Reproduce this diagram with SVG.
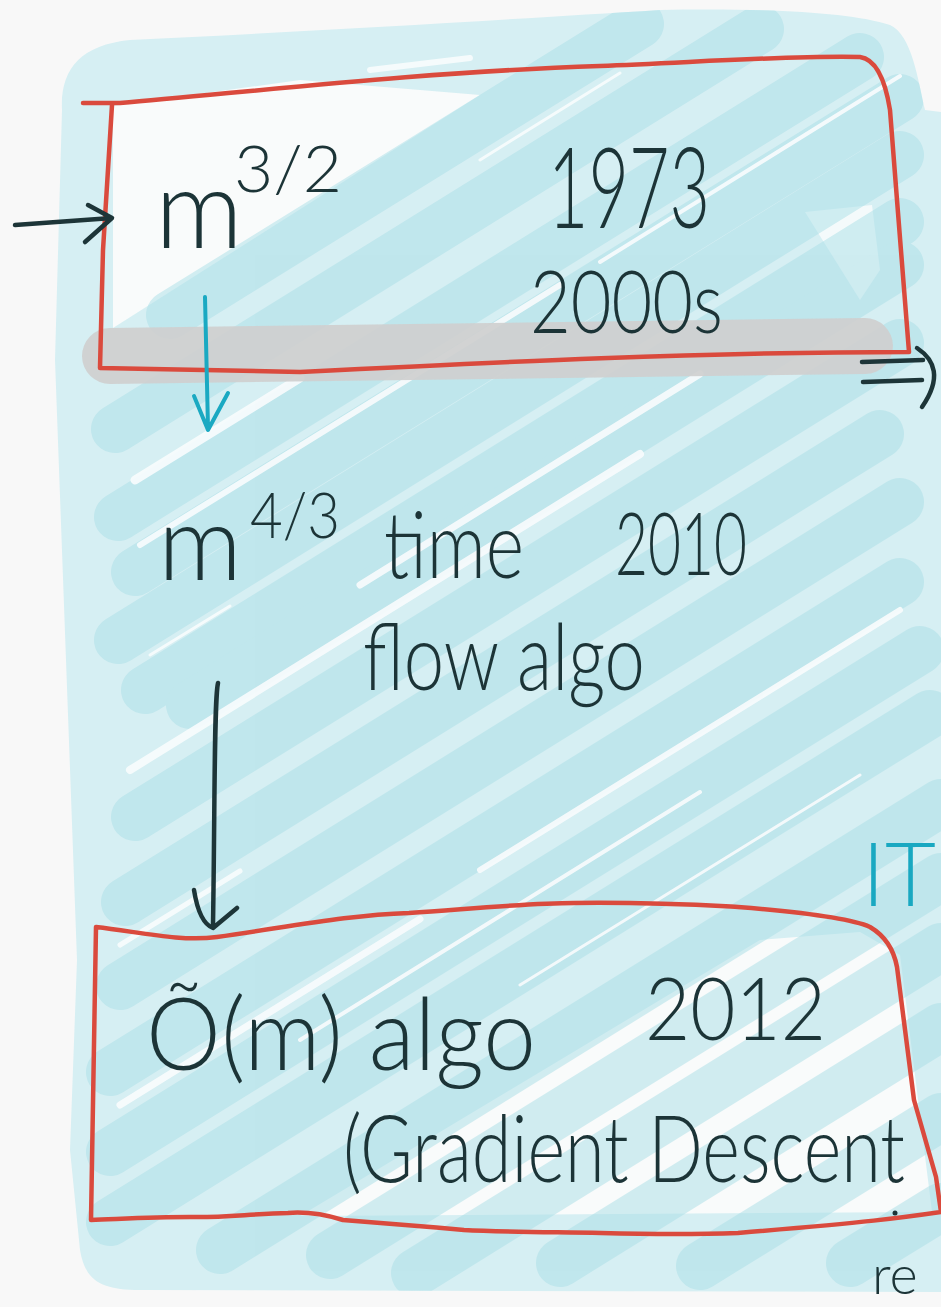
<svg xmlns="http://www.w3.org/2000/svg" width="941" height="1307" viewBox="0 0 941 1307">
  <defs>
    <style>
      .ink { fill: #1c3437; font-family: "Lato", "Open Sans", "Liberation Sans", sans-serif; font-weight: 300; }
      .cyanink { fill: #19a8c1; font-family: "Lato", "Open Sans", "Liberation Sans", sans-serif; font-weight: 300; }
      .box { fill: none; stroke: #da4a3d; stroke-width: 4.5; stroke-linejoin: round; stroke-linecap: round; }
      .line { fill: none; stroke: #1d3538; stroke-width: 4.5; stroke-linecap: round; stroke-linejoin: round; }
      .cline { fill: none; stroke: #1aa9c2; stroke-width: 4; stroke-linecap: round; stroke-linejoin: round; }
      .hatch { fill: none; stroke: #a9dfe7; stroke-width: 48; stroke-linecap: round; opacity: 0.5; }
      .streak { fill: none; stroke: #f9fcfd; stroke-linecap: round; opacity: 0.9; }
    </style>
    <clipPath id="washClip">
      <path d="M62,110 C60,70 80,45 130,40 C300,32 500,20 660,10 C760,8 850,12 890,25 C912,35 918,80 925,110 L941,112 L941,1292 L140,1290 C100,1290 85,1280 80,1250 L70,1150 L77,960 L55,360 Z"/>
    </clipPath>
  </defs>

  <!-- paper -->
  <rect width="941" height="1307" fill="#f8f8f8"/>

  <!-- highlighter wash -->
  <g id="wash" clip-path="url(#washClip)">
    <rect x="0" y="0" width="941" height="1307" fill="#d6eff3"/>
    <!-- lighter patches inside the boxes -->
    <path d="M113,106 L113,328 L480,95 L300,80 Z" fill="#f9fbfb"/>
    <path d="M300,1216 L932,1212 L900,955 L860,932 L760,940 Z" fill="#f9fbfb"/>
    <path d="M805,212 L872,205 L880,270 L860,300 Z" fill="#f4fafb"/>
    <!-- diagonal marker strokes -->
    <g class="hatch">
      <path d="M170,315 L640,24"/>
      <path d="M115,429 L760,29"/>
      <path d="M118,517 L860,57"/>
      <path d="M135,572 L900,98"/>
      <path d="M118,640 L900,155"/>
      <path d="M145,690 L900,222"/>
      <path d="M190,705 L900,265"/>
      <path d="M135,817 L900,343"/>
      <path d="M125,902 L880,434"/>
      <path d="M120,986 L900,502"/>
      <path d="M110,1072 L900,582"/>
      <path d="M110,1152 L920,650"/>
      <path d="M110,1222 L930,714"/>
      <path d="M220,1250 L941,803"/>
      <path d="M330,1255 L941,877"/>
      <path d="M415,1273 L941,947"/>
      <path d="M560,1263 L941,1027"/>
      <path d="M700,1266 L941,1117"/>
      <path d="M850,1263 L941,1207"/>
    </g>
    <!-- white gaps between strokes -->
    <g class="streak">
      <path d="M135,480 L300,378" stroke-width="9"/>
      <path d="M140,545 L560,285" stroke-width="6"/>
      <path d="M600,262 L900,76" stroke-width="4"/>
      <path d="M150,655 L230,606" stroke-width="3"/>
      <path d="M360,585 L700,374" stroke-width="7"/>
      <path d="M130,770 L640,454" stroke-width="8"/>
      <path d="M480,870 L900,610" stroke-width="6"/>
      <path d="M120,945 L240,871" stroke-width="5"/>
      <path d="M300,1040 L700,792" stroke-width="4"/>
      <path d="M520,985 L860,775" stroke-width="3"/>
      <path d="M120,1105 L420,919" stroke-width="7"/>
      <path d="M370,70 L470,58" stroke-width="6"/>
      <path d="M480,160 L620,73" stroke-width="3"/>
    </g>
  </g>

  <!-- grey marker band across the first box -->
  <path d="M110,356 L865,346" fill="none" stroke="#cfcfcf" stroke-width="56" stroke-linecap="round" opacity="0.92"/>

  <!-- first box: m^(3/2) -->
  <g id="node-m32">
    <path class="box" d="M83,103 L120,103 C250,92 420,72 600,66 C700,62 800,55 860,57 Q882,60 890,110 L897,200 L909,352 C700,352 500,362 300,372 L100,368 L103,250 L112,105"/>
    <text class="ink" x="155" y="248" font-size="110" textLength="88" lengthAdjust="spacingAndGlyphs">m</text>
    <text class="ink" x="234" y="192" font-size="66" textLength="108" lengthAdjust="spacingAndGlyphs">3/2</text>
    <text class="ink" x="548" y="228" font-size="112" textLength="162" lengthAdjust="spacingAndGlyphs">1973</text>
    <text class="ink" x="530" y="333" font-size="86" textLength="193" lengthAdjust="spacingAndGlyphs">2000s</text>
  </g>

  <!-- intermediate result: m^(4/3) -->
  <g id="node-m43">
    <text class="ink" x="158" y="580" font-size="105" textLength="84" lengthAdjust="spacingAndGlyphs">m</text>
    <text class="ink" x="250" y="538" font-size="64" textLength="90" lengthAdjust="spacingAndGlyphs">4/3</text>
    <text class="ink" x="384" y="578" font-size="92" textLength="140" lengthAdjust="spacingAndGlyphs">time</text>
    <text class="ink" x="615" y="575" font-size="86" textLength="132" lengthAdjust="spacingAndGlyphs">2010</text>
    <text class="ink" x="363" y="690" font-size="92" textLength="282" lengthAdjust="spacingAndGlyphs">flow algo</text>
  </g>

  <!-- second box: near-linear algorithm -->
  <g id="node-om">
    <path class="box" d="M96,927 C140,932 180,942 217,937 C300,925 350,915 409,913 C480,908 530,903 574,903 C650,902 700,905 738,907 C800,912 850,918 870,927 Q892,940 897,967 L914,1100 L936,1177 L941,1212 M941,1212 C900,1218 870,1222 738,1233 C680,1235 640,1234 601,1233 C540,1232 500,1232 464,1230 C420,1226 370,1222 343,1220 C320,1213 300,1212 288,1213 C250,1214 220,1218 190,1217 C150,1217 120,1219 91,1220 L96,927"/>
    <text class="ink" x="146" y="1070" font-size="100" textLength="390" lengthAdjust="spacingAndGlyphs">Õ(m) algo</text>
    <text class="ink" x="645" y="1040" font-size="86" textLength="181" lengthAdjust="spacingAndGlyphs">2012</text>
    <text class="ink" x="343" y="1182" font-size="92" textLength="562" lengthAdjust="spacingAndGlyphs">(Gradient Descent</text>
    <circle cx="895" cy="1213" r="2.5" fill="#1c3437"/>
  </g>

  <!-- fragments running off the right edge -->
  <g id="node-edge">
    <text class="cyanink" x="862" y="906" font-size="88">IT</text>
    <text class="ink" x="872" y="1294" font-size="54">re</text>
  </g>

  <!-- connectors -->
  <g id="connectors">
    <path class="line" d="M15,225 L112,218 M88,205 L112,218 L85,242"/>
    <path class="line" d="M862,362 L923,360 M863,382 L922,380 M917,348 C935,360 942,378 922,407"/>
    <path class="cline" d="M205,297 L208,428 M194,396 L208,430 L228,393"/>
    <path class="line" d="M218,683 C214,700 215,800 213,925 M194,890 C198,915 205,925 213,928 L237,908"/>
  </g>
</svg>
